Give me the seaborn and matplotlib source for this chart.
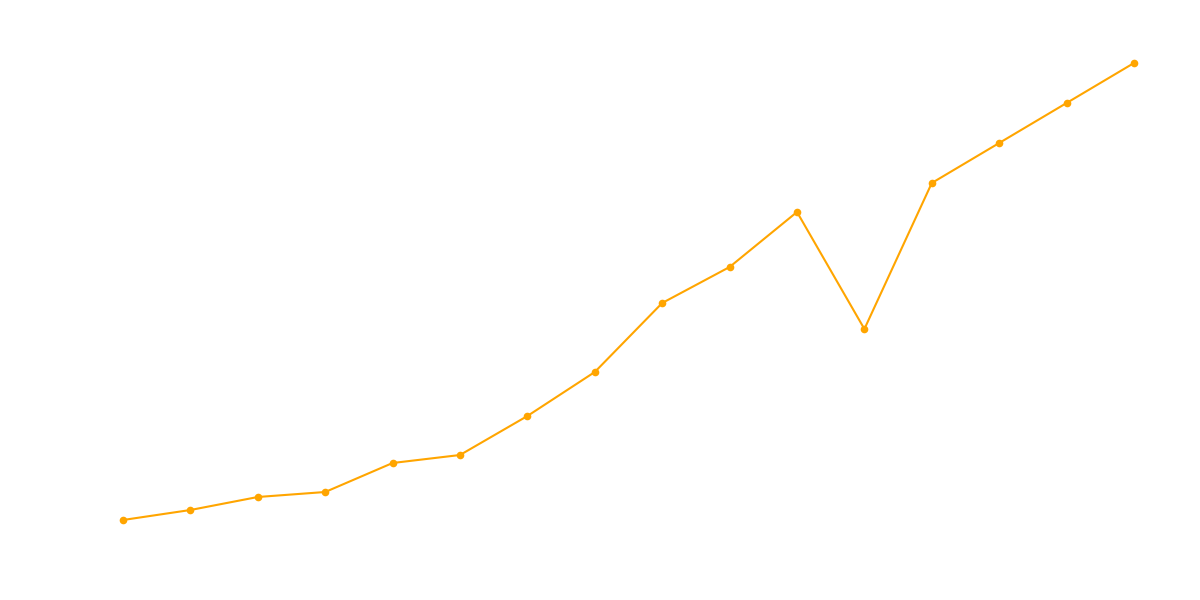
import pandas as pd
import numpy as np
import matplotlib
matplotlib.use("Agg")
import matplotlib.pyplot as plt
import seaborn as sns

# values (pixel height above the bottom edge)
steps = list(range(16))
values = [80, 90, 103, 108, 137, 145, 184, 228, 297, 333, 388, 271, 417, 457, 497, 537]

df = pd.DataFrame({"step": steps, "value": values})

sns.set_theme(style="white")
fig = plt.figure(figsize=(12, 6), dpi=100)
ax = fig.add_axes([0, 0, 1, 1])

sns.lineplot(data=df, x="step", y="value", ax=ax, color="#FFA500",
             linewidth=1.5, marker="o", markersize=5.5, markeredgewidth=0)

# map step 0 -> 123px, step 15 -> 1134px
dx = (1134 - 123) / 15
ax.set_xlim(-123 / dx, 15 + (1200 - 1134) / dx)
ax.set_ylim(0, 600)
ax.set_axis_off()

fig.savefig("out.png", dpi=100)
